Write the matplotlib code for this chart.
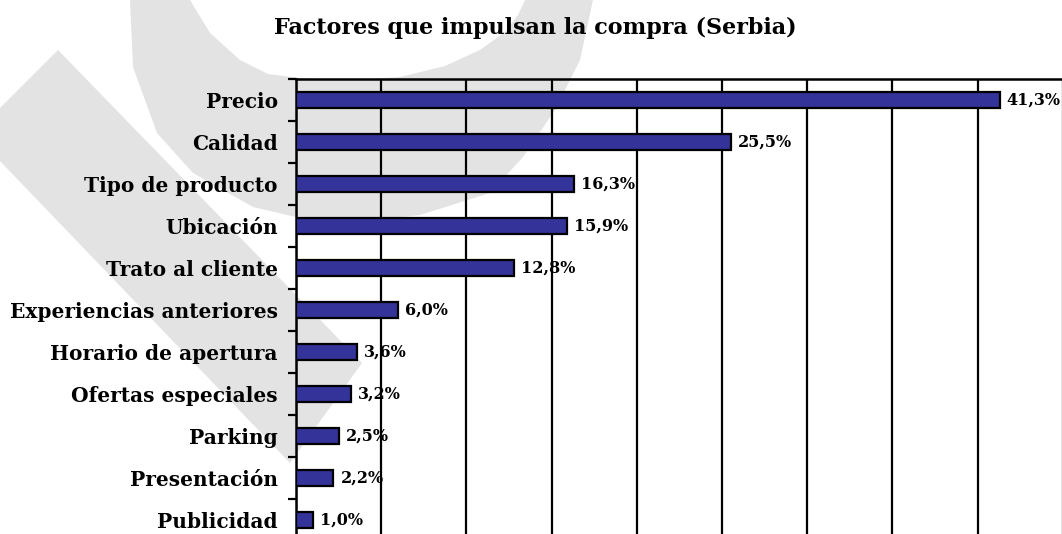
import matplotlib
matplotlib.use("Agg")
import matplotlib.pyplot as plt
from matplotlib.patches import Polygon
from matplotlib.ticker import MultipleLocator, FixedLocator
import matplotlib.transforms as mtransforms
import numpy as np

title = "Factores que impulsan la compra (Serbia)"
categories = ["Precio", "Calidad", "Tipo de producto", "Ubicación", "Trato al cliente",
              "Experiencias anteriores", "Horario de apertura", "Ofertas especiales",
              "Parking", "Presentación", "Publicidad"]
values = [41.3, 25.5, 16.3, 15.9, 12.8, 6.0, 3.6, 3.2, 2.5, 2.2, 1.0]

W, H = 1062, 534
fig = plt.figure(figsize=(W / 100, H / 100), dpi=100)
fig.patch.set_facecolor("white")

# watermark decoration in pixel coordinates (y downwards)
pix = mtransforms.Affine2D().scale(1 / W, -1 / H).translate(0, 1) + fig.transFigure
wm = "#e3e3e3"
outer = [(130, -5), (130, 0), (133, 67), (157, 133), (193, 173), (253, 207), (300, 218),
         (360, 222), (420, 215), (490, 193), (523, 157), (555, 110), (580, 60), (593, 0), (593, -5)]
inner = [(190, -5), (190, 0), (210, 33), (240, 60), (268, 74), (300, 78), (350, 80), (400, 77),
         (445, 66), (480, 50), (505, 32), (518, 15), (525, 0), (525, -5)]
band = [(58, 50), (362, 363), (290, 463), (-26, 134)]
for pts, col in [(outer, wm), (inner, "white"), (band, wm)]:
    p = Polygon(pts, closed=True, facecolor=col, edgecolor="none", transform=pix, zorder=-5)
    fig.patches.append(p)

ax = fig.add_axes([296 / W, -7 / H, (1062 - 296) / W, (541 - 79) / H])
ax.set_facecolor("none")

y = np.arange(len(categories))
ax.barh(y, values, height=0.4, color="#333399", edgecolor="black", linewidth=1.6, zorder=3)

ax.set_xlim(0, 44.95)
ax.set_ylim(len(categories) - 0.5, -0.5)

ax.xaxis.set_major_locator(MultipleLocator(5))
ax.tick_params(axis="x", length=0, labelbottom=False)
ax.grid(axis="x", color="black", linewidth=1.6, zorder=1)
ax.set_axisbelow(True)

ax.set_yticks(y)
ax.set_yticklabels(categories, fontfamily="DejaVu Serif", fontweight="bold", fontsize=14.5)
ax.tick_params(axis="y", which="major", length=0, pad=13)
ax.yaxis.set_minor_locator(FixedLocator(np.arange(-0.5, len(categories) + 0.5, 1.0)))
ax.tick_params(axis="y", which="minor", length=6, width=1.6, color="black")

for s in ["top", "left"]:
    ax.spines[s].set_linewidth(1.8)
    ax.spines[s].set_color("black")
ax.spines["right"].set_linewidth(1.0)
ax.spines["right"].set_color("#888888")
ax.spines["bottom"].set_visible(False)

for yi, v in zip(y, values):
    ax.annotate(f"{v:.1f}%".replace(".", ","), xy=(v, yi), xytext=(5, 0),
                textcoords="offset points", va="center", ha="left",
                fontfamily="DejaVu Serif", fontweight="bold", fontsize=11.5, zorder=5,
                annotation_clip=False)

fig.text(535 / W, 1 - 28 / H, title, ha="center", va="center",
         fontfamily="DejaVu Serif", fontweight="bold", fontsize=16)

fig.savefig("out.png", dpi=100)
